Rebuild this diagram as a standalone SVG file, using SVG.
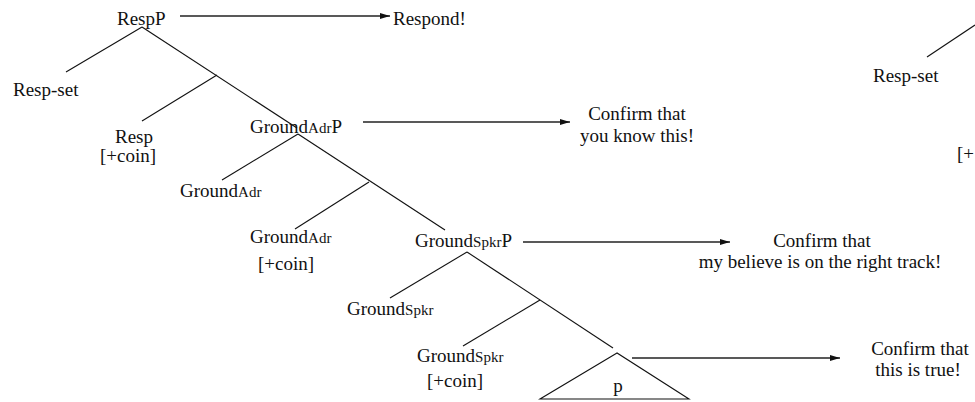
<svg xmlns="http://www.w3.org/2000/svg" width="975" height="402" viewBox="0 0 975 402">
  <style>
    text { font-family: "Liberation Serif", "Times New Roman", serif; font-size: 19px; fill: #111; }
    .sub { font-size: 15px; }
    .mid { text-anchor: middle; }
    .branch { stroke: #111; stroke-width: 1.1; fill: none; }
    .arrow { stroke: #222; stroke-width: 1.3; fill: none; marker-end: url(#head); }
  </style>
  <defs>
    <marker id="head" markerUnits="userSpaceOnUse" markerWidth="10" markerHeight="8" refX="10" refY="4" orient="auto">
      <path d="M0,1 L10,4 L0,7 z" fill="#111"/>
    </marker>
  </defs>

  <!-- tree branches and arrows -->
  <g id="connectors">
    <line class="branch" x1="142" y1="27" x2="66" y2="72"/>
    <line class="branch" x1="142" y1="27" x2="297" y2="128"/>
    <line class="branch" x1="217" y1="75" x2="142" y2="121"/>

    <line class="branch" x1="298" y1="134" x2="222" y2="180"/>
    <line class="branch" x1="298" y1="134" x2="445" y2="230"/>
    <line class="branch" x1="369" y1="182" x2="295" y2="229"/>

    <line class="branch" x1="467" y1="252" x2="390" y2="298"/>
    <line class="branch" x1="467" y1="252" x2="613" y2="348"/>
    <line class="branch" x1="540" y1="300" x2="463" y2="346"/>

    <line class="branch" x1="927" y1="57" x2="975" y2="25"/>

    <line class="arrow" x1="180" y1="16" x2="390" y2="16"/>
    <line class="arrow" x1="363" y1="122" x2="570" y2="122"/>
    <line class="arrow" x1="523" y1="242" x2="730" y2="242"/>
    <line class="arrow" x1="632" y1="358" x2="840" y2="358"/>
  </g>

  <g id="respP"><text x="117" y="25">RespP</text></g>
  <g id="respSet"><text x="13" y="96">Resp-set</text></g>
  <g id="resp">
    <text x="115" y="143">Resp</text>
    <text x="100" y="162">[+coin]</text>
  </g>
  <g id="groundAdrP"><text x="250" y="133">Ground<tspan class="sub">Adr</tspan>P</text></g>
  <g id="groundAdrSpec"><text x="180" y="197">Ground<tspan class="sub">Adr</tspan></text></g>
  <g id="groundAdrHead">
    <text x="250" y="243">Ground<tspan class="sub">Adr</tspan></text>
    <text x="258" y="270">[+coin]</text>
  </g>
  <g id="groundSpkrP"><text x="415" y="247">Ground<tspan class="sub">Spkr</tspan>P</text></g>
  <g id="groundSpkrSpec"><text x="347" y="315">Ground<tspan class="sub">Spkr</tspan></text></g>
  <g id="groundSpkrHead">
    <text x="417" y="362">Ground<tspan class="sub">Spkr</tspan></text>
    <text x="427" y="387">[+coin]</text>
  </g>
  <g id="prop">
    <polygon class="branch" points="617,353 540,399 689,399"/>
    <text class="mid" x="618" y="392">p</text>
  </g>

  <g id="respond"><text x="393" y="25">Respond!</text></g>
  <g id="confirmKnow">
    <text class="mid" x="637" y="120">Confirm that</text>
    <text class="mid" x="637" y="142">you know this!</text>
  </g>
  <g id="confirmTrack">
    <text class="mid" x="822" y="247">Confirm that</text>
    <text class="mid" x="820" y="268">my believe is on the right track!</text>
  </g>
  <g id="confirmTrue">
    <text class="mid" x="920" y="355">Confirm that</text>
    <text class="mid" x="918" y="376">this is true!</text>
  </g>

  <g id="respSet2"><text x="873" y="82">Resp-set</text></g>
  <g id="coin2"><text x="957" y="160">[+</text></g>
</svg>
